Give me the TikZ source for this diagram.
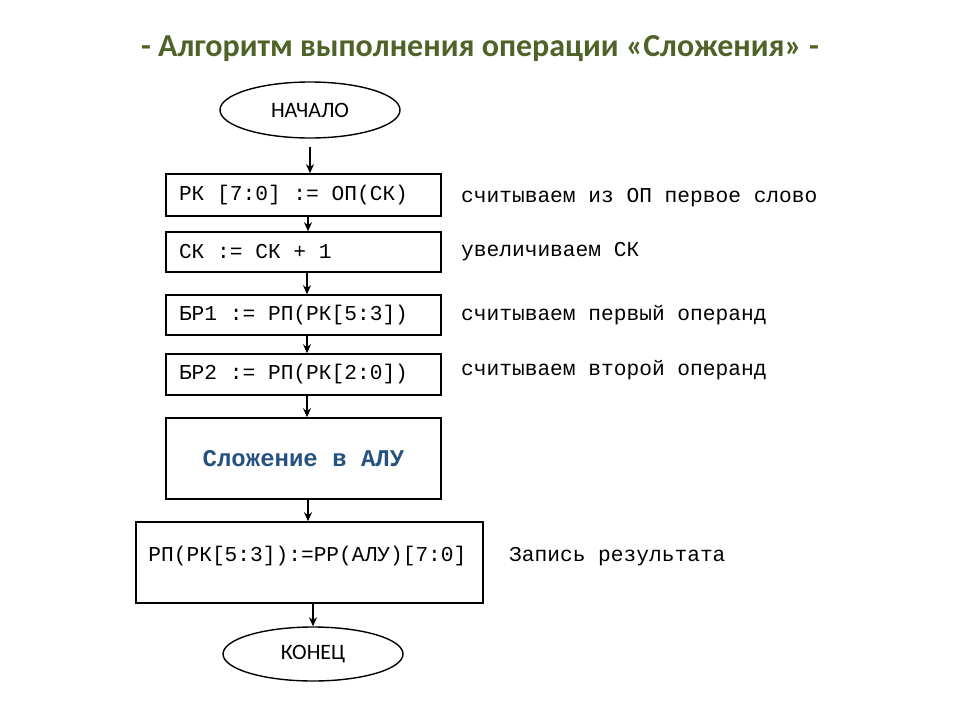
\documentclass[tikz,border=0pt]{standalone}
\usepackage{fontspec}
\setmainfont{Carlito}
\setmonofont{Liberation Mono}
\usetikzlibrary{shapes.geometric,arrows.meta,calc}
\definecolor{titlegreen}{RGB}{79,98,40}
\definecolor{alublue}{RGB}{38,82,130}
\tikzset{
  stepbox/.style={draw=black,line width=1.6pt,rectangle,inner xsep=13pt,inner ysep=0pt,align=left,
    font=\ttfamily\fontsize{21.2}{24}\selectfont,execute at begin node={\spaceskip=0pt\xspaceskip=0pt}},
  term/.style={draw=black,line width=1.4pt,ellipse,inner sep=0pt,font=\fontsize{22}{26}\selectfont},
  note/.style={anchor=west,inner sep=0pt,font=\ttfamily\fontsize{21.2}{24}\selectfont},
  flow/.style={line width=1.6pt,-{Stealth[length=9pt,width=8pt]}}
}
\begin{document}
\begin{tikzpicture}[x=1pt,y=-1pt]
\useasboundingbox (0,0) rectangle (960,720);
\node[font=\bfseries\fontsize{32}{36}\selectfont,text=titlegreen] (title) at (480,49) {- Алгоритм выполнения операции «Сложения» -};
\node[term,minimum width=180pt,minimum height=56pt] (start) at (310,110) {НАЧАЛО};
\node[stepbox,text width=249pt,minimum height=42pt] (b1) at (303.5,195) {РК [7:0] := ОП(СК)};
\node[stepbox,text width=249pt,minimum height=40pt] (b2) at (303.5,252) {СК := СК + 1};
\node[stepbox,text width=249pt,minimum height=40pt] (b3) at (303.5,315) {БР1 := РП(РК[5:3])};
\node[stepbox,text width=249pt,minimum height=41pt] (b4) at (303.5,374.5) {БР2 := РП(РК[2:0])};
\node[stepbox,text width=249pt,minimum height=81pt,align=center,font=\ttfamily\bfseries\fontsize{24}{28}\selectfont,text=alublue] (b5) at (303.5,458.5) {Сложение в АЛУ};
\node[stepbox,minimum width=347pt,minimum height=81pt] (b6) at (309.5,562.5) {};
\node[note] (t6) at ($(b6.west)+(13,-6)$) {РП(РК[5:3]):=РР(АЛУ)[7:0]};
\node[term,minimum width=180pt,minimum height=54pt] (stop) at (313,654) {КОНЕЦ};
\node[note] (n1) at (461,198) {считываем из ОП первое слово};
\node[note] (n2) at (461,252) {увеличиваем СК};
\node[note] (n3) at (461,315) {считываем первый операнд};
\node[note] (n4) at (461,370) {считываем второй операнд};
\node[note] (n6) at (509,557) {Запись результата};
\draw[flow,shorten <=8pt] (start.south) -- (b1.north -| start.south);
\draw[flow] (b1.south -| 308,0) -- (b2.north -| 308,0);
\draw[flow] (b2.south -| 307,0) -- (b3.north -| 307,0);
\draw[flow] (b3.south -| 307,0) -- (b4.north -| 307,0);
\draw[flow] (b4.south -| 307,0) -- (b5.north -| 307,0);
\draw[flow] (b5.south -| 308,0) -- (b6.north -| 308,0);
\draw[flow] (b6.south -| 313,0) -- (stop.north);
\end{tikzpicture}
\end{document}
